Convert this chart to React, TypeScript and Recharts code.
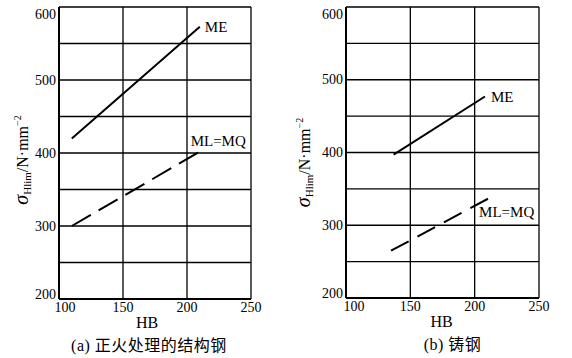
import React from 'react';
import { LineChart, Line, XAxis, YAxis, CartesianGrid, Label } from 'recharts';

// ---- data ----
const hbTicks = [100, 150, 200, 250];
const stressTicks = [200, 250, 300, 350, 400, 450, 500, 550, 600];

// (a) normalized structural steel
const aMeHB = [110, 210];
const aMeStress = [420, 573];
const aMlHB = [110, 213];
const aMlStress = [300, 405];

// (b) cast steel
const bMeHB = [137, 208];
const bMeStress = [397, 477];
const bMlHB = [135, 212];
const bMlStress = [265, 338];

const seriesNames = ['ME', 'ML=MQ'];
const captions = ['(a) 正火处理的结构钢', '(b) 铸钢'];
const xTitle = 'HB';

const toRows = (xs: number[], ys: number[]) => xs.map((x, i) => ({ hb: x, v: ys[i] }));

const SERIF = "'Liberation Serif', serif";
const CJK = "'Liberation Serif', 'Noto Sans CJK SC', serif";

const makeYTick = () => (props: any) => {
  const { x, y, payload } = props;
  const v = payload.value;
  if (v % 100 !== 0) return <g />;
  const dy = v === 600 ? 5 : v === 200 ? -5 : 0;
  return (
    <text x={x} y={y + dy} textAnchor="end" dominantBaseline="central" style={{ fontFamily: SERIF, fontSize: 14 }} fill="#000">
      {v}
    </text>
  );
};

const makeXTick = (firstDx: number) => (props: any) => {
  const { x, y, payload } = props;
  const v = payload.value;
  const dx = v === 100 ? firstDx : 0;
  return (
    <text x={x + dx} y={y + 11} textAnchor="middle" style={{ fontFamily: SERIF, fontSize: 14 }} fill="#000">
      {v}
    </text>
  );
};

const makeEndLabel = (name: string, dx: number, dy: number) => (props: any) => {
  const { x, y, index } = props;
  if (index !== 1) return <g />;
  return (
    <text x={x + dx} y={y + dy} dominantBaseline="central" style={{ fontFamily: SERIF, fontSize: 15 }} fill="#000">
      {name}
    </text>
  );
};

const YTitle = (cx: number, dyc: number) => (props: any) => {
  const vb = props.viewBox || {};
  const x = (vb.x || 0) + cx;
  const y = (vb.y || 0) + (vb.height || 0) / 2 + dyc;
  return (
    <text
      x={x}
      y={y + 6}
      transform={`rotate(-90, ${x}, ${y})`}
      textAnchor="middle"
      style={{ fontFamily: SERIF, fontSize: 16 }}
      fill="#000"
    >
      <tspan style={{ fontStyle: 'italic', fontSize: 20 }}>σ</tspan>
      <tspan style={{ fontSize: 11 }} dy={3}>Hlim</tspan>
      <tspan dy={-3}>/N·mm</tspan>
      <tspan style={{ fontSize: 10 }} dy={-7}>−2</tspan>
    </text>
  );
};

const XTitle = (caption: string, hbDx: number, capDx: number) => (props: any) => {
  const vb = props.viewBox || {};
  const cx = (vb.x || 0) + (vb.width || 0) / 2;
  const top = vb.y || 0;
  return (
    <g>
      <text x={cx + hbDx} y={top + 29} textAnchor="middle" style={{ fontFamily: SERIF, fontSize: 16 }} fill="#000">
        {xTitle}
      </text>
      <text x={cx + capDx} y={top + 52} textAnchor="middle" style={{ fontFamily: CJK, fontSize: 16, letterSpacing: 0.5 }} fill="#000">
        {caption}
      </text>
    </g>
  );
};

type PanelProps = {
  me: { hb: number; v: number }[];
  ml: { hb: number; v: number }[];
  caption: string;
  yWidth: number;
  xHeight: number;
  right: number;
  firstDx: number;
  hbDx: number;
  capDx: number;
  yTitleX: number;
  yTitleDy: number;
  meLbl: [number, number];
  mlLbl: [number, number];
  dash: string;
};

const Panel = (p: PanelProps) => (
  <LineChart width={286} height={358} margin={{ top: 7, right: p.right, bottom: 0, left: 0 }}>
    <CartesianGrid stroke="#000" strokeWidth={1.3} />
    <XAxis
      type="number"
      dataKey="hb"
      domain={[100, 250]}
      ticks={hbTicks}
      allowDataOverflow
      height={p.xHeight}
      tickSize={0}
      tickMargin={2}
      tickLine={false}
      axisLine={{ stroke: '#000', strokeWidth: 2 }}
      tick={makeXTick(p.firstDx)}
    >
      <Label content={XTitle(p.caption, p.hbDx, p.capDx)} />
    </XAxis>
    <YAxis
      type="number"
      domain={[200, 600]}
      ticks={stressTicks}
      allowDataOverflow
      width={p.yWidth}
      tickSize={0}
      tickMargin={3}
      tickLine={false}
      axisLine={{ stroke: '#000', strokeWidth: 2 }}
      tick={makeYTick()}
    >
      <Label content={YTitle(p.yTitleX, p.yTitleDy)} />
    </YAxis>
    <Line
      data={p.me}
      dataKey="v"
      stroke="#000"
      strokeWidth={2}
      dot={false}
      isAnimationActive={false}
      label={makeEndLabel(seriesNames[0], p.meLbl[0], p.meLbl[1])}
    />
    <Line
      data={p.ml}
      dataKey="v"
      stroke="#000"
      strokeWidth={2}
      strokeDasharray={p.dash}
      dot={false}
      isAnimationActive={false}
      label={makeEndLabel(seriesNames[1], p.mlLbl[0], p.mlLbl[1])}
    />
  </LineChart>
);

export default function App() {
  return (
    <div
      style={{
        position: 'absolute',
        left: 0,
        top: 0,
        width: 572,
        height: 358,
        background: '#fff',
        display: 'flex',
      }}
    >
      <Panel
        me={toRows(aMeHB, aMeStress)}
        ml={toRows(aMlHB, aMlStress)}
        caption={captions[0]}
        yWidth={59}
        xHeight={59}
        right={35}
        firstDx={6}
        hbDx={-8}
        capDx={-6}
        yTitleX={22}
        yTitleDy={7}
        meLbl={[5, 0]}
        mlLbl={[-13, -8]}
        dash="22 9"
      />
      <Panel
        me={toRows(bMeHB, bMeStress)}
        ml={toRows(bMlHB, bMlStress)}
        caption={captions[1]}
        yWidth={60}
        xHeight={60}
        right={33}
        firstDx={8}
        hbDx={-1}
        capDx={10}
        yTitleX={18}
        yTitleDy={10}
        meLbl={[6, 1]}
        mlLbl={[-11, 14]}
        dash="20 10"
      />
    </div>
  );
}
